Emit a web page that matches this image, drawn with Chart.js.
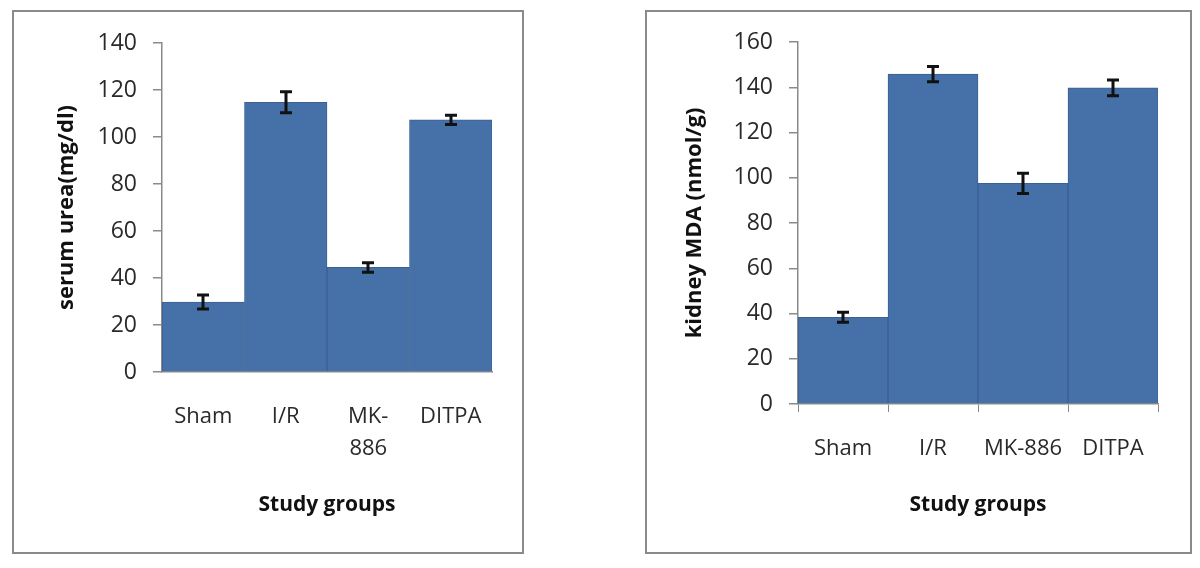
<!DOCTYPE html>
<html>
<head>
<meta charset="utf-8">
<script src="https://cdn.jsdelivr.net/npm/chart.js@4/dist/chart.umd.min.js"></script>
<style>
  body { margin: 0; background: #fff; width: 1200px; height: 568px; position: relative; overflow: hidden; }
  .box { position: absolute; border: 2px solid #8a8a8a; }
  #boxA { left: 12px; top: 10px; width: 508px; height: 540px; }
  #boxB { left: 645px; top: 10px; width: 543px; height: 540px; }
  canvas { display: block; }
</style>
</head>
<body>
<div class="box" id="boxA"><canvas id="chartUrea" width="508" height="540"></canvas></div>
<div class="box" id="boxB"><canvas id="chartMda" width="543" height="540"></canvas></div>
<script>
// --- Datos ---
const grupos = ['Sham', 'I/R', 'MK-886', 'DITPA'];
const gruposUrea = ['Sham', 'I/R', ['MK-', '886'], 'DITPA'];

const urea = [29.8, 114.8, 44.5, 107.3];
const ureaErr = [3, 4.5, 2, 2];

const mda = [38.3, 145.8, 97.5, 139.7];
const mdaErr = [2.2, 3.4, 4.5, 3.5];

const colorBarra = '#4671a8';
const colorBorde = '#3a6192';
const colorEje = '#8a8a8a';

// barras de error dibujadas con las escalas del grafico
const barrasError = {
    id: 'barrasError',
    afterDatasetsDraw(chart, args, opts) {
        const { ctx } = chart;
        const yScale = chart.scales.y;
        const meta = chart.getDatasetMeta(0);
        const valores = chart.data.datasets[0].data;
        ctx.save();
        ctx.strokeStyle = '#111';
        ctx.lineWidth = 3;
        meta.data.forEach((bar, i) => {
            const v = valores[i], e = opts.errores[i];
            const yTop = yScale.getPixelForValue(v + e);
            const yBot = yScale.getPixelForValue(v - e);
            const x = Math.round(bar.x);
            ctx.beginPath();
            ctx.moveTo(x, yTop); ctx.lineTo(x, yBot);
            ctx.moveTo(x - 6, yTop); ctx.lineTo(x + 6, yTop);
            ctx.moveTo(x - 6, yBot); ctx.lineTo(x + 6, yBot);
            ctx.stroke();
        });
        ctx.restore();
    }
};

function crearGrafica(id, etiquetas, datos, errores, cfg) {
    return new Chart(document.getElementById(id), {
        type: 'bar',
        data: {
            labels: etiquetas,
            datasets: [{
                data: datos,
                backgroundColor: colorBarra,
                borderColor: colorBorde,
                borderWidth: 1,
                barPercentage: 1,
                categoryPercentage: 1
            }]
        },
        options: {
            responsive: false,
            animation: false,
            layout: { padding: { left: 0, right: cfg.padRight, top: cfg.padTop, bottom: 0 } },
            plugins: {
                legend: { display: false },
                tooltip: { enabled: false },
                barrasError: { errores: errores }
            },
            scales: {
                x: {
                    grid: { drawOnChartArea: false, drawTicks: cfg.xTicks, tickLength: 8, color: colorEje },
                    border: { display: true, color: colorEje, width: 1.5 },
                    ticks: {
                        color: '#2a2a2a',
                        padding: cfg.xPad,
                        maxRotation: 0,
                        autoSkip: false,
                        font: { family: "'Open Sans', sans-serif", size: 22, lineHeight: cfg.xLineHeight }
                    },
                    title: {
                        display: true,
                        text: 'Study groups',
                        color: '#111',
                        padding: { top: 0, bottom: 34 },
                        font: { family: "'Open Sans', sans-serif", size: 21, weight: 'bold', lineHeight: 1.2 }
                    },
                    afterFit: (scale) => { scale.height = cfg.xHeight; }
                },
                y: {
                    min: 0,
                    max: cfg.yMax,
                    ticks: {
                        stepSize: 20,
                        color: '#2a2a2a',
                        padding: 16,
                        font: { family: "'Open Sans', sans-serif", size: 23 }
                    },
                    grid: { drawOnChartArea: false, drawTicks: true, tickLength: 9, color: colorEje, lineWidth: 1.5 },
                    border: { display: true, color: colorEje, width: 1.5 },
                    title: {
                        display: true,
                        text: cfg.yTitulo,
                        color: '#111',
                        padding: { top: cfg.yTitlePad, bottom: 0 },
                        font: { family: "'Open Sans', sans-serif", size: 22, weight: 'bold', lineHeight: 1.2 }
                    },
                    afterFit: (scale) => { scale.width = cfg.yWidth; }
                }
            }
        },
        plugins: [barrasError]
    });
}

crearGrafica('chartUrea', gruposUrea, urea, ureaErr, {
    yMax: 140, yTitulo: 'serum urea(mg/dl)',
    padRight: 30, padTop: 31, yWidth: 148, xHeight: 180,
    xTicks: false, xPad: 29, xLineHeight: '32px', yTitlePad: 40
});

crearGrafica('chartMda', grupos, mda, mdaErr, {
    yMax: 160, yTitulo: 'kidney MDA (nmol/g)',
    padRight: 32, padTop: 30, yWidth: 151, xHeight: 148,
    xTicks: true, xPad: 24, xLineHeight: 1.2, yTitlePad: 35
});
</script>
</body>
</html>
